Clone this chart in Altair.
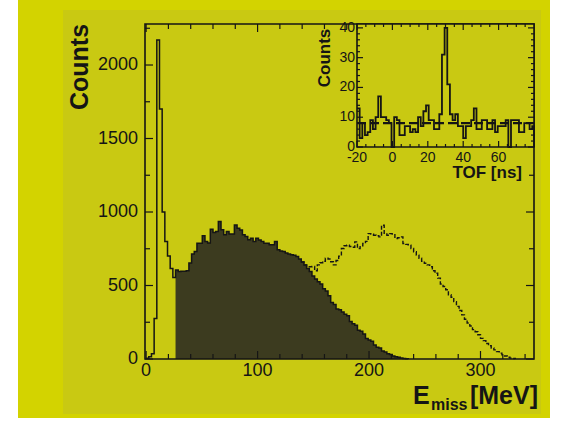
import altair as alt
import pandas as pd

# ---------------- data ----------------
E_BIN = 2.4  # MeV per bin (main histograms)
peak_counts = [5, 15, 35, 275, 2170, 1700, 1000, 800, 700, 615, 555]   # bins from 0 MeV
filled_start_bin = 11
filled_counts = [605, 595, 597, 597, 600, 653, 714, 732, 788, 788,
                 838, 800, 790, 883, 860, 867, 935, 880, 845, 867,
                 851, 851, 912, 890, 878, 845, 833, 811, 822, 800,
                 822, 810, 800, 788, 788, 777, 777, 800, 743, 735,
                 732, 721, 715, 709, 705, 698, 680, 660, 640, 615,
                 595, 565, 545, 525, 510, 478, 462, 430, 385, 370,
                 340, 335, 320, 305, 295, 255, 240, 230, 195, 188,
                 170, 140, 130, 120, 95, 80, 75, 55, 48, 35,
                 30, 20, 15, 12, 6, 4, 2]
dashed_start_bin = 58
dashed_counts = [660, 640, 628, 628, 630, 600, 640, 655, 665, 685,
                 680, 662, 640, 670, 700, 752, 770, 775, 765, 760,
                 797, 752, 770, 786, 800, 853, 850, 842, 838, 831,
                 910, 850, 842, 853, 845, 820, 825, 831, 786, 780,
                 775, 752, 730, 707, 685, 665, 651, 640, 628, 600,
                 583, 550, 510, 493, 471, 437, 420, 390, 358, 330,
                 300, 270, 245, 225, 200, 185, 165, 140, 125, 105,
                 90, 75, 62, 50, 40, 28, 20, 12, 6, 3]

TOF_START = -20.0
TOF_BIN = 1.5
tof_counts = [13, 3, 8, 4, 5, 9, 6, 10, 17, 10,
              10, 9, 8, 0, 10, 9, 4, 4, 7, 7,
              5, 6, 5, 10, 7, 12, 14, 9, 9, 6,
              6, 11, 31, 40, 21, 11, 9, 11, 7, 7,
              3, 7, 7, 9, 13, 6, 6, 9, 9, 6,
              6, 9, 5, 7, 7, 7, 9, 0, 9, 9,
              9, 5, 5, 8, 8, 6, 7]
tof_level = 8

main_x_labels = [0, 100, 200, 300]
main_y_labels = [0, 500, 1000, 1500, 2000]
main_x_ticks = list(range(0, 341, 20))
main_y_ticks = list(range(0, 2251, 250))
inset_x_labels = [-20, 0, 20, 40, 60]
inset_y_labels = [0, 10, 20, 30, 40]
inset_x_ticks = list(range(-20, 80, 5))
inset_y_ticks = list(range(0, 41, 2))

# ---------------- layout / style ----------------
W, H = 389, 335
INSET_L, INSET_B = 212, 123
OUTER = "#d3d300"
PAGE = "#c9c912"
DARK = "#3c3b1f"
INK = "#151515"
FONT = "Liberation Sans"

xs_main = alt.Scale(domain=[-1, 348], nice=False, zero=False)
ys_main = alt.Scale(domain=[0, 2279], nice=False)
xs_ins = alt.Scale(domain=[-20, 80], range=[INSET_L, W], nice=False, zero=False)
ys_ins = alt.Scale(domain=[0, 41.3], range=[INSET_B, 0], nice=False)


def steps(start, width, counts, end_clip=None):
    xs = [round(start + i * width, 3) for i in range(len(counts) + 1)]
    if end_clip is not None:
        xs = [min(x, end_clip) for x in xs]
    return pd.DataFrame({"x": xs, "y": list(counts) + [0]})


solid_df = steps(0.0, E_BIN, peak_counts + filled_counts)
filled_df = steps(filled_start_bin * E_BIN, E_BIN, filled_counts)
dashed_df = steps(dashed_start_bin * E_BIN, E_BIN, dashed_counts)
tof_df = steps(TOF_START, TOF_BIN, tof_counts, end_clip=80)

one = pd.DataFrame({"a": [0]})


def vrect(x0, x1, y0, y1, **kw):
    return alt.Chart(one).mark_rect(**kw).encode(
        x=alt.value(x0), x2=alt.value(x1), y=alt.value(y0), y2=alt.value(y1))


def text(t, x, y, size, **kw):
    return alt.Chart(pd.DataFrame({"t": [t]})).mark_text(
        font=FONT, fontSize=size, color=INK, **kw).encode(
        x=alt.value(x), y=alt.value(y), text="t:N")


def xlabels(vals, scale, ypix, size):
    d = pd.DataFrame({"v": vals, "lab": [str(v) for v in vals]})
    return alt.Chart(d).mark_text(font=FONT, fontSize=size, color=INK,
                                  align="center", baseline="top").encode(
        x=alt.X("v:Q", scale=scale, axis=None), y=alt.value(ypix), text="lab:N")


def ylabels(vals, scale, xpix, size):
    d = pd.DataFrame({"v": vals, "lab": [str(v) for v in vals]})
    return alt.Chart(d).mark_text(font=FONT, fontSize=size, color=INK,
                                  align="right", baseline="middle").encode(
        y=alt.Y("v:Q", scale=scale, axis=None), x=alt.value(xpix), text="lab:N")


def xticks(vals, scale, ybase, length, top=False):
    d = pd.DataFrame({"v": vals})
    y0, y1 = (0, length) if top else (ybase, ybase - length)
    return alt.Chart(d).mark_rule(color=INK, strokeWidth=1.2).encode(
        x=alt.X("v:Q", scale=scale, axis=None), y=alt.value(y0), y2=alt.value(y1))


def yticks(vals, scale, xbase, length, right=False):
    d = pd.DataFrame({"v": vals})
    x0, x1 = (xbase - length, xbase) if right else (xbase, xbase + length)
    return alt.Chart(d).mark_rule(color=INK, strokeWidth=1.2).encode(
        y=alt.Y("v:Q", scale=scale, axis=None), x=alt.value(x0), x2=alt.value(x1))


bg_outer = vrect(-127, 405, -24, 394, color=OUTER)
bg_page = vrect(-82, 396, -14, 390, color=PAGE)

filled = alt.Chart(filled_df).mark_area(interpolate="step-after", color=DARK, opacity=1).encode(
    x=alt.X("x:Q", scale=xs_main, axis=None), y=alt.Y("y:Q", scale=ys_main, axis=None))
solid = alt.Chart(solid_df).mark_line(interpolate="step-after", color=INK, strokeWidth=1.5).encode(
    x=alt.X("x:Q", scale=xs_main, axis=None), y=alt.Y("y:Q", scale=ys_main, axis=None))
dashed = alt.Chart(dashed_df).mark_line(interpolate="step-after", color=INK, strokeWidth=1.4,
                                        strokeDash=[4, 2]).encode(
    x=alt.X("x:Q", scale=xs_main, axis=None), y=alt.Y("y:Q", scale=ys_main, axis=None))

mx_major = [v for v in main_x_ticks if v % 100 == 0]
mx_minor = [v for v in main_x_ticks if v % 100 != 0]
my_major = [v for v in main_y_ticks if v % 500 == 0]
my_minor = [v for v in main_y_ticks if v % 500 != 0]
main_ticks = [
    xticks(mx_major, xs_main, H, 8), xticks(mx_minor, xs_main, H, 5),
    xticks([v for v in mx_major if v <= 180], xs_main, 0, 8, top=True),
    xticks([v for v in mx_minor if v <= 180], xs_main, 0, 5, top=True),
    yticks(my_major, ys_main, 0, 8), yticks(my_minor, ys_main, 0, 5),
    yticks([v for v in my_major if v <= 1250], ys_main, W, 8, right=True),
    yticks([v for v in my_minor if v <= 1250], ys_main, W, 5, right=True),
]
main_frame = vrect(0, W, 0, H, filled=False, stroke=INK, strokeWidth=1.6)
main_labels = [xlabels(main_x_labels, xs_main, H + 3, 18),
               ylabels(main_y_labels, ys_main, -7, 18)]

main = alt.layer(bg_outer, bg_page, filled, solid, dashed, *main_ticks, main_frame, *main_labels)

# ---------------- inset ----------------
frame_df = pd.DataFrame({"x0": [-20], "x1": [80], "y0": [0], "y1": [41.3]})
inset_frame = alt.Chart(frame_df).mark_rect(fill=PAGE, stroke=INK, strokeWidth=1.6).encode(
    x=alt.X("x0:Q", scale=xs_ins, axis=None), x2="x1:Q",
    y=alt.Y("y0:Q", scale=ys_ins, axis=None), y2="y1:Q")
tof_line = alt.Chart(tof_df).mark_line(interpolate="step-after", color=INK, strokeWidth=1.8).encode(
    x=alt.X("x:Q", scale=xs_ins, axis=None), y=alt.Y("y:Q", scale=ys_ins, axis=None))
level_df = pd.DataFrame({"x0": [-20], "x1": [80], "y": [tof_level]})
level = alt.Chart(level_df).mark_rule(color=INK, strokeWidth=2.4, strokeDash=[9, 4]).encode(
    x=alt.X("x0:Q", scale=xs_ins, axis=None), x2="x1:Q",
    y=alt.Y("y:Q", scale=ys_ins, axis=None))

ix_major = [v for v in inset_x_ticks if v % 20 == 0]
ix_minor = [v for v in inset_x_ticks if v % 20 != 0]
iy_major = [v for v in inset_y_ticks if v % 10 == 0]
iy_minor = [v for v in inset_y_ticks if v % 10 != 0]
inset_ticks = [
    xticks(ix_major, xs_ins, INSET_B, 6), xticks(ix_minor, xs_ins, INSET_B, 3),
    xticks(ix_major, xs_ins, 0, 6, top=True), xticks(ix_minor, xs_ins, 0, 3, top=True),
    yticks(iy_major, ys_ins, INSET_L, 6), yticks(iy_minor, ys_ins, INSET_L, 3),
    yticks(iy_major, ys_ins, W, 6, right=True), yticks(iy_minor, ys_ins, W, 3, right=True),
]
inset_labels = [xlabels(inset_x_labels, xs_ins, INSET_B + 4, 14),
                ylabels(inset_y_labels, ys_ins, INSET_L - 2, 14)]
inset = alt.layer(inset_frame, level, tof_line, *inset_ticks, *inset_labels)

# ---------------- titles ----------------
titles = [
    text("Counts", -65, 43, 25, fontWeight="bold", angle=270, align="center", baseline="middle"),
    text("E", 268, 380, 25, fontWeight="bold", align="left", baseline="alphabetic"),
    text("miss", 286, 386, 16, fontWeight="bold", align="left", baseline="alphabetic"),
    text("[MeV]", 393, 380, 25, fontWeight="bold", align="right", baseline="alphabetic"),
    text("Counts", 180, 34, 17, fontWeight="bold", angle=270, align="center", baseline="middle"),
    text("TOF [ns]", 377, 154, 17, fontWeight="bold", align="right", baseline="alphabetic"),
]

chart = alt.layer(main, inset, *titles).resolve_scale(
    x="independent", y="independent").properties(
    width=W, height=H,
    autosize=alt.AutoSizeParams(type="none"),
    padding={"left": 145, "top": 24, "right": 32, "bottom": 71},
).configure(background="white").configure_view(strokeWidth=0)

chart.save("out.html", embed_options={"renderer": "svg", "actions": False})
